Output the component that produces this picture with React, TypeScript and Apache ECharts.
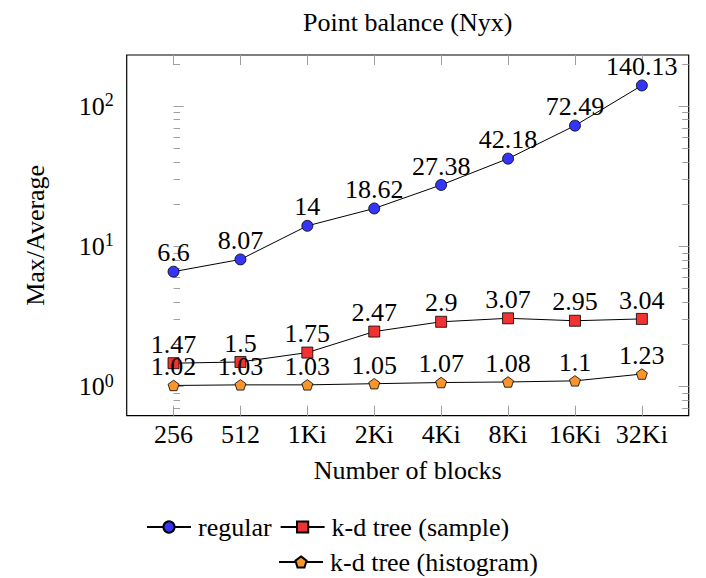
import React, { useEffect, useRef } from 'react';
import * as echarts from 'echarts';

const categories = ['256', '512', '1Ki', '2Ki', '4Ki', '8Ki', '16Ki', '32Ki'];
const regular = [6.6, 8.07, 14, 18.62, 27.38, 42.18, 72.49, 140.13];
const kdSample = [1.47, 1.5, 1.75, 2.47, 2.9, 3.07, 2.95, 3.04];
const kdHistogram = [1.02, 1.03, 1.03, 1.05, 1.07, 1.08, 1.1, 1.23];
const xTicks = [0, 1, 2, 3, 4, 5, 6, 7];
const yMajorTicks = [1, 10, 100];
const yMinorTicks = [0.7, 0.8, 0.9, 2, 3, 4, 5, 6, 7, 8, 9, 20, 30, 40, 50, 60, 70, 80, 90, 200];
const exponents: Record<number, string> = { 1: '0', 10: '1', 100: '2' };

const FONT = 'Liberation Serif, Times New Roman, Times, DejaVu Serif, Noto Serif, serif';
const PENTAGON = 'path://M0,-10L9.51,-3.09L5.88,8.09L-5.88,8.09L-9.51,-3.09Z';
const Y_MIN = 0.621;
const Y_MAX = 231;
const X_MIN = -0.7;
const X_MAX = 7.7;
const TICK_COLOR = '#a0a0a0';

function toPairs(vals: number[]) {
  return vals.map((v, i) => [i, v]);
}

export default function App() {
  const ref = useRef<HTMLDivElement>(null);
  useEffect(() => {
    if (!ref.current) return;
    const chart = echarts.init(ref.current, undefined, { renderer: 'svg' });
    const xAxisBase = (pos: 'bottom' | 'top', labels: boolean) => ({
      type: 'value',
      position: pos,
      min: X_MIN,
      max: X_MAX,
      axisLine: { show: false },
      splitLine: { show: false },
      axisTick: {
        show: true,
        inside: true,
        length: 10,
        customValues: xTicks,
        lineStyle: { color: TICK_COLOR, width: 1 },
      },
      axisLabel: {
        show: labels,
        customValues: xTicks,
        margin: 6,
        color: '#000',
        fontSize: 26,
        fontFamily: FONT,
        formatter: (v: number) => categories[Math.round(v)] ?? '',
      },
    });
    const yAxisBase = (pos: 'left' | 'right', ticks: number[], len: number, labels: boolean) => ({
      type: 'log',
      position: pos,
      min: Y_MIN,
      max: Y_MAX,
      axisLine: { show: false },
      splitLine: { show: false },
      minorTick: { show: false },
      axisTick: {
        show: true,
        inside: true,
        length: len,
        customValues: ticks,
        lineStyle: { color: TICK_COLOR, width: 1 },
      },
      axisLabel: {
        show: labels,
        customValues: yMajorTicks,
        margin: 13,
        formatter: (v: number) => `{b|10}{s|${exponents[Math.round(v)] ?? ''}}`,
        rich: {
          b: { fontSize: 26, fontFamily: FONT, color: '#000', lineHeight: 30 },
          s: { fontSize: 18, fontFamily: FONT, color: '#000', verticalAlign: 'top', lineHeight: 18 },
        },
      },
    });
    const labelStyle = {
      show: true,
      position: 'top',
      distance: 0,
      color: '#000',
      fontSize: 26,
      fontFamily: FONT,
      formatter: (p: any) => String(p.value[1]),
    };
    const option: any = {
      animation: false,
      backgroundColor: '#fff',
      textStyle: { fontFamily: FONT },
      title: {
        text: 'Point balance (Nyx)',
        left: 298,
        top: 4,
        textStyle: { fontSize: 26, fontWeight: 'normal', fontFamily: FONT, color: '#000' },
      },
      grid: {
        left: 126.7,
        top: 55,
        right: 17.3,
        bottom: 162.3,
        show: true,
        borderColor: '#000',
        borderWidth: 1.2,
        backgroundColor: 'transparent',
        containLabel: false,
      },
      xAxis: [
        {
          ...xAxisBase('bottom', true),
          name: 'Number of blocks',
          nameLocation: 'middle',
          nameGap: 42,
          nameTextStyle: { fontSize: 26, fontFamily: FONT, color: '#000' },
        },
        xAxisBase('top', false),
      ],
      yAxis: [
        {
          ...yAxisBase('left', yMajorTicks, 10, true),
          name: 'Max/Average',
          nameLocation: 'middle',
          nameGap: 78,
          nameTextStyle: { fontSize: 26, fontFamily: FONT, color: '#000' },
        },
        yAxisBase('left', yMinorTicks, 6.5, false),
        yAxisBase('right', yMajorTicks, 10, false),
        yAxisBase('right', yMinorTicks, 6.5, false),
      ],
      legend: [
        {
          data: ['regular', 'k-d tree (sample)'],
          left: 146,
          top: 514,
          orient: 'horizontal',
          itemWidth: 44,
          itemHeight: 14,
          itemGap: 8,
          padding: 0,
          textStyle: { fontSize: 26, fontFamily: FONT, color: '#000', padding: [0, 0, 0, 2] },
        },
        {
          data: ['k-d tree (histogram)'],
          left: 278,
          top: 549,
          orient: 'horizontal',
          itemWidth: 44,
          itemHeight: 14,
          itemGap: 8,
          padding: 0,
          textStyle: { fontSize: 26, fontFamily: FONT, color: '#000', padding: [0, 0, 0, 2] },
        },
      ],
      series: [
        {
          name: 'regular',
          type: 'line',
          data: toPairs(regular),
          symbol: 'circle',
          symbolSize: 11,
          lineStyle: { color: '#000', width: 1 },
          itemStyle: { color: '#3535f5', borderColor: '#000', borderWidth: 0.8 },
          label: labelStyle,
          z: 3,
        },
        {
          name: 'k-d tree (sample)',
          type: 'line',
          data: toPairs(kdSample),
          symbol: 'rect',
          symbolSize: 11,
          lineStyle: { color: '#000', width: 1 },
          itemStyle: { color: '#f03232', borderColor: '#000', borderWidth: 0.8 },
          label: labelStyle,
          z: 3,
        },
        {
          name: 'k-d tree (histogram)',
          type: 'line',
          data: toPairs(kdHistogram),
          symbol: PENTAGON,
          symbolKeepAspect: true,
          symbolSize: 11,
          lineStyle: { color: '#000', width: 1 },
          itemStyle: { color: '#f8962d', borderColor: '#000', borderWidth: 0.8 },
          label: labelStyle,
          z: 3,
        },
      ],
    };
    chart.setOption(option);
    return () => chart.dispose();
  }, []);
  return (
    <div
      ref={ref}
      style={{ position: 'fixed', left: 0, top: 0, width: 706, height: 578, background: '#fff' }}
    />
  );
}
